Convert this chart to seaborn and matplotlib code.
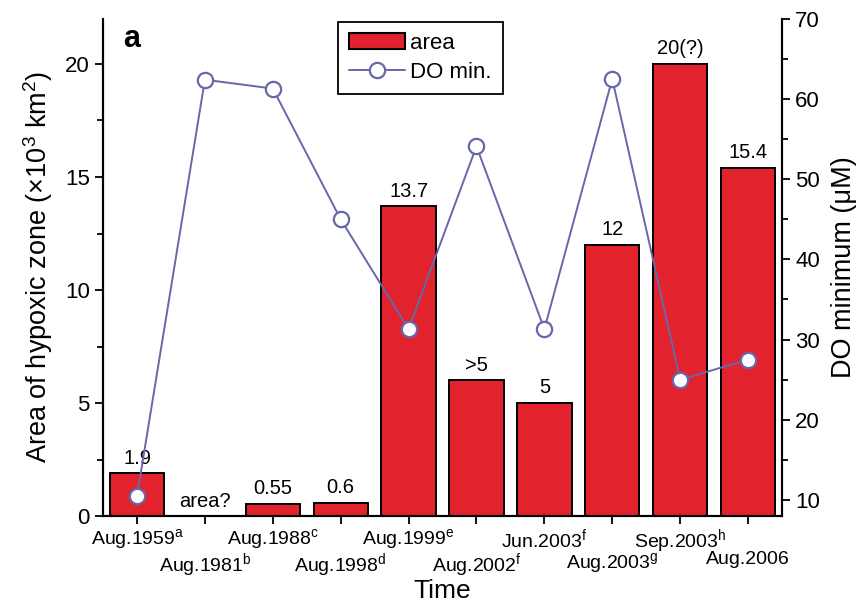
import numpy as np
import pandas as pd
import matplotlib
matplotlib.use("Agg")
import matplotlib.pyplot as plt
import seaborn as sns
from matplotlib.ticker import MultipleLocator
from matplotlib.patches import Patch
from matplotlib.lines import Line2D

# ---- data ----
periods = ["Aug.1959", "Aug.1981", "Aug.1988", "Aug.1998", "Aug.1999",
           "Aug.2002", "Jun.2003", "Aug.2003", "Sep.2003", "Aug.2006"]
refs = ["a", "b", "c", "d", "e", "f", "f", "g", "h", ""]
area = [1.9, 0.0, 0.55, 0.6, 13.7, 6.0, 5.0, 12.0, 20.0, 15.4]
area_labels = ["1.9", "area?", "0.55", "0.6", "13.7", ">5", "5", "12", "20(?)", "15.4"]
do_min = [10.5, 62.4, 61.3, 45.0, 31.3, 54.1, 31.3, 62.5, 25.0, 27.5]

sns.set_style("ticks")
plt.rcParams["font.family"] = ["Liberation Sans", "DejaVu Sans"]
plt.rcParams["mathtext.default"] = "regular"
for k in ("text.color", "axes.labelcolor", "xtick.color", "ytick.color", "axes.edgecolor"):
    plt.rcParams[k] = "black"

bar_color = "#e2222c"
line_color = "#6767ab"

df = pd.DataFrame({"period": periods, "area": area, "do": do_min})

fig = plt.figure(figsize=(8.66, 6.05), dpi=100)
ax = fig.add_axes([0.119, 0.147, 0.784, 0.822])

sns.barplot(data=df, x="period", y="area", ax=ax, color=bar_color,
            saturation=1, width=0.8, edgecolor="black", linewidth=1.4)

ax.set_xlim(-0.5, len(periods) - 0.5)
ax.set_ylim(0, 22)
ax.yaxis.set_major_locator(MultipleLocator(5))
ax.yaxis.set_minor_locator(MultipleLocator(2.5))

for i, (v, lab) in enumerate(zip(area, area_labels)):
    ax.annotate(lab, (i, v), xytext=(0, 4), textcoords="offset points",
                ha="center", va="bottom", fontsize=14.5)

ticklabels = [p + (f"$^{{{r}}}$" if r else "") for p, r in zip(periods, refs)]
ax.set_xticks(range(len(periods)))
ax.set_xticklabels(ticklabels, fontsize=14)
ax.tick_params(axis="x", which="major", direction="out", length=6, width=1.3, pad=2)
for i, t in enumerate(ax.xaxis.get_major_ticks()):
    if i % 2 == 1:
        t.set_pad(19)

ax.set_xlabel("Time", fontsize=19, labelpad=0)
ax.set_ylabel("Area of hypoxic zone (×10$^3$ km$^2$)", fontsize=19.5, labelpad=7)

ax.tick_params(axis="y", which="major", direction="out", length=6, width=1.3, labelsize=16)
ax.tick_params(axis="y", which="minor", direction="out", length=4, width=1.3)

ax2 = ax.twinx()
sns.lineplot(x=np.arange(len(periods)), y=do_min, ax=ax2, color=line_color,
             linewidth=1.4, marker="o", markersize=11, markerfacecolor="white",
             markeredgecolor=line_color, markeredgewidth=1.6)
ax2.set_ylim(8, 70)
ax2.yaxis.set_major_locator(MultipleLocator(10))
ax2.yaxis.set_minor_locator(MultipleLocator(5))
ax2.set_ylabel("DO minimum (μM)", fontsize=19.5, labelpad=8)
ax2.tick_params(axis="y", which="major", direction="out", length=6, width=1.3, labelsize=16)
ax2.tick_params(axis="y", which="minor", direction="out", length=4, width=1.3)

for a in (ax, ax2):
    a.spines["top"].set_visible(False)
    for s in ("left", "right", "bottom"):
        a.spines[s].set_linewidth(1.5)

ax.text(0.03, 0.99, "a", transform=ax.transAxes, fontsize=22,
        fontweight="bold", ha="left", va="top")

handles = [Patch(facecolor=bar_color, edgecolor="black", linewidth=1.5),
           Line2D([0], [0], color=line_color, lw=1.4, marker="o", markersize=11,
                  markerfacecolor="white", markeredgecolor=line_color, markeredgewidth=1.6)]
leg = ax2.legend(handles, ["area", "DO min."], loc="upper left",
                 bbox_to_anchor=(0.346, 0.994), borderaxespad=0, fontsize=16,
                 frameon=True, fancybox=False, framealpha=1, edgecolor="black",
                 handlelength=2.5, handleheight=0.7, handletextpad=0.25,
                 borderpad=0.5, labelspacing=0.35)
leg.get_frame().set_linewidth(1.3)

fig.savefig("out.png", dpi=100)
